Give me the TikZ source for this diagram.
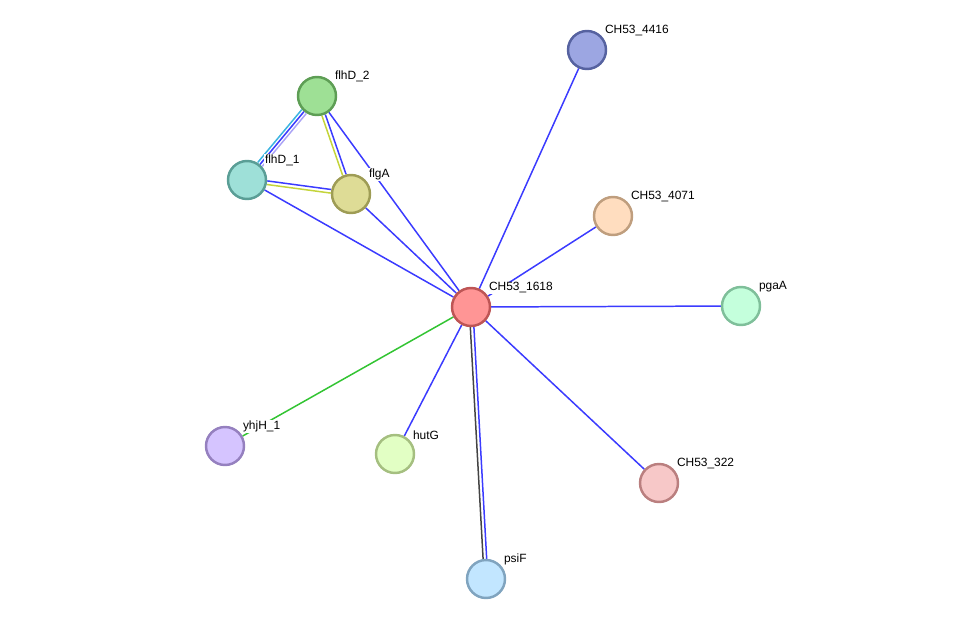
\documentclass[tikz,border=0pt]{standalone}
\usepackage{fontspec}
\setmainfont{Liberation Sans}
\usepackage{xcolor}
\usetikzlibrary{calc,backgrounds}

\definecolor{edgeblue}{HTML}{3B3BFF}
\definecolor{edgegreen}{HTML}{33C433}
\definecolor{edgetext}{HTML}{C4D43A}
\definecolor{edgecyan}{HTML}{3CB4E0}
\definecolor{edgehom}{HTML}{ABA3F5}
\definecolor{edgegray}{HTML}{444444}

\begin{document}
\begin{tikzpicture}[x=0.02cm, y=-0.02cm,
    every node/.style={font=\fontsize{6.8}{8}\selectfont},
    prot/.style={circle, minimum size=0.76cm, inner sep=0pt, line width=1.4pt},
    lbl/.style={inner sep=0.3pt, fill=white, label distance=0.08cm, yshift=-0.08cm},
    edge/.style={line width=0.85pt},
    blueedge/.style={edge, edgeblue},
    shifted/.style={transform canvas={shift={#1}}},
]
\useasboundingbox (0,0) rectangle (976,625);

% Hub
\node[prot, fill={rgb,255:red,255;green,149;blue,149}, draw={rgb,255:red,190;green,85;blue,85}, label={[lbl]north east:CH53\_1618}] (c1618) at (471,307) {};

% Neighbours
\node[prot, fill={rgb,255:red,156;green,166;blue,226}, draw={rgb,255:red,86;green,98;blue,160}, label={[lbl]north east:CH53\_4416}] (c4416) at (587,50) {};
\node[prot, fill={rgb,255:red,158;green,224;blue,149}, draw={rgb,255:red,94;green,158;blue,85}, label={[lbl]north east:flhD\_2}] (flhD2) at (317,96) {};
\node[prot, fill={rgb,255:red,158;green,224;blue,216}, draw={rgb,255:red,90;green,158;blue,150}, label={[lbl]north east:flhD\_1}] (flhD1) at (247,180) {};
\node[prot, fill={rgb,255:red,222;green,220;blue,150}, draw={rgb,255:red,158;green,156;blue,85}, label={[lbl]north east:flgA}] (flgA) at (351,194) {};
\node[prot, fill={rgb,255:red,255;green,221;blue,191}, draw={rgb,255:red,191;green,158;blue,126}, label={[lbl]north east:CH53\_4071}] (c4071) at (613,216) {};
\node[prot, fill={rgb,255:red,196;green,255;blue,220}, draw={rgb,255:red,127;green,191;blue,154}, label={[lbl]north east:pgaA}] (pgaA) at (741,306) {};
\node[prot, fill={rgb,255:red,213;green,196;blue,255}, draw={rgb,255:red,149;green,128;blue,191}, label={[lbl]north east:yhjH\_1}] (yhjH) at (225,446) {};
\node[prot, fill={rgb,255:red,226;green,255;blue,196}, draw={rgb,255:red,165;green,191;blue,128}, label={[lbl]north east:hutG}] (hutG) at (395,454) {};
\node[prot, fill={rgb,255:red,247;green,200;blue,200}, draw={rgb,255:red,186;green,127;blue,127}, label={[lbl]north east:CH53\_322}] (c322) at (659,483) {};
\node[prot, fill={rgb,255:red,194;green,230;blue,255}, draw={rgb,255:red,128;green,164;blue,191}, label={[lbl]north east:psiF}] (psiF) at (486,579) {};

\begin{scope}[on background layer]
% Single edges
\foreach \n in {c4416,c4071,pgaA,c322,hutG,flhD2,flhD1,flgA}
    \draw[blueedge] (c1618) -- (\n);
\draw[edge, edgegreen] (c1618) -- (yhjH);

% Multiple edges
\draw[edge, edgegray, shifted={(-1.8,0)}] (c1618) -- (psiF);
\draw[blueedge, shifted={(1.8,0)}] (c1618) -- (psiF);

\draw[edge, edgecyan, shifted={(-2.3,-1.9)}] (flhD2) -- (flhD1);
\draw[blueedge] (flhD2) -- (flhD1);
\draw[edge, edgehom, shifted={(2.3,1.9)}] (flhD2) -- (flhD1);

\draw[edge, edgetext, shifted={(-1.7,0.6)}] (flhD2) -- (flgA);
\draw[blueedge, shifted={(1.7,-0.6)}] (flhD2) -- (flgA);

\draw[blueedge, shifted={(0.2,-1.8)}] (flhD1) -- (flgA);
\draw[edge, edgetext, shifted={(-0.2,1.8)}] (flhD1) -- (flgA);
\end{scope}

\end{tikzpicture}
\end{document}
